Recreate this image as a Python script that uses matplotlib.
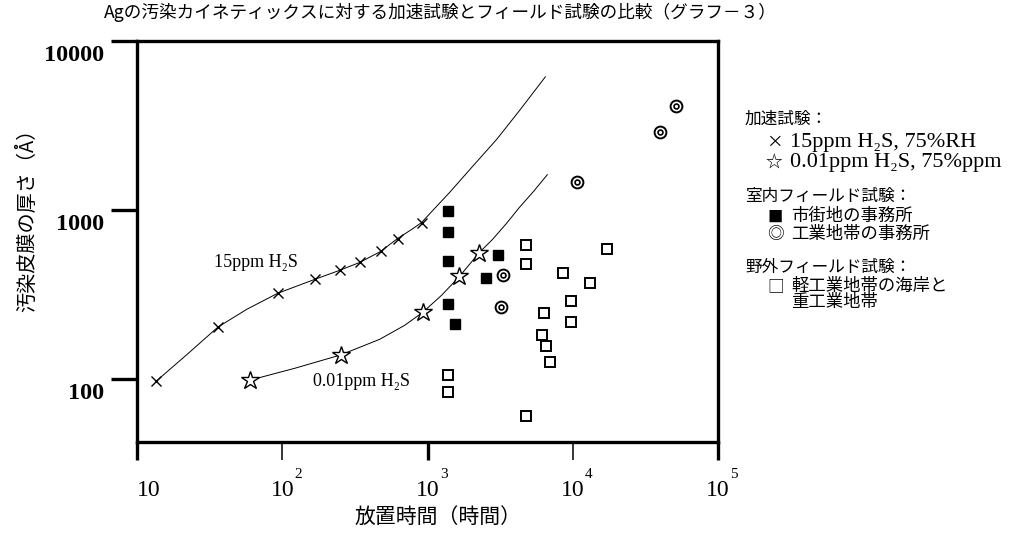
import numpy as np
import matplotlib.pyplot as plt
from matplotlib import transforms, ticker

plt.rcParams['font.family'] = ['Liberation Serif', 'Noto Sans CJK JP', 'DejaVu Sans']
jp = ['Noto Sans CJK JP', 'DejaVu Sans']

# accelerated test, 15ppm H2S (x marks)
h2s15_hours = [13.5, 36, 93, 167, 248, 341, 475, 622, 910]
h2s15_thick = [97, 203, 322, 389, 440, 490, 569, 679, 844]
# fitted curve through them
curve15_hours = [13.5, 22.1, 36, 57, 93, 167, 248, 341, 475, 622, 776, 910, 1135, 1416, 2037,
                 2979, 4285, 6476]
curve15_thick = [97, 140, 203, 259, 322, 389, 440, 490, 569, 679, 767, 844, 1035, 1268, 1807,
                 2606, 3864, 6138]

# accelerated test, 0.01ppm H2S (stars)
h2s001_hours = [59.8, 252, 925, 1660, 2275]
h2s001_thick = [98.6, 139, 248, 405, 561]
curve001_hours = [59.8, 122, 252, 468, 695, 925, 1248, 1660, 2275, 2800, 3491, 4285, 5357, 6683]
curve001_thick = [98.6, 116, 139, 172, 208, 248, 313, 405, 561, 670, 832, 1035, 1286, 1619]

# indoor field test: city office (filled squares)
city_hours = [1393, 1393, 1393, 1393, 1556, 3077, 2541]
city_thick = [994, 747, 497, 277, 211, 546, 394]

# indoor field test: industrial office (bullseye)
ind_hours = [3327, 3226, 10740, 39900, 51400]
ind_thick = [411, 266, 1473, 2903, 4139]

# outdoor field test (open squares)
out_hours = [1393, 1393, 4786, 4786, 4786, 17260, 8610, 13180, 9770, 6366, 9770, 6170, 6575, 7000]
out_thick = [106, 84, 618, 483, 60.5, 585, 422, 368, 288, 245, 217, 182, 157, 126]

W, H = 1028, 536
fig = plt.figure(figsize=(W / 100, H / 100), dpi=100)
ax = fig.add_axes([137 / W, 1 - 442 / H, (718 - 137) / W, (442 - 41) / H])

ax.plot(curve15_hours, curve15_thick, color='black', lw=0.7)
ax.plot(curve001_hours, curve001_thick, color='black', lw=0.7)
ax.plot(h2s15_hours, h2s15_thick, 'x', color='black', ms=7, mew=1.0)
ax.plot(h2s001_hours, h2s001_thick, '*', mfc='white', mec='black', ms=13.5, mew=1.0)
ax.plot(city_hours, city_thick, 's', color='black', ms=7.5)
ax.plot(ind_hours, ind_thick, 'o', mfc='white', mec='black', ms=8.5, mew=1.4)
ax.plot(ind_hours, ind_thick, 'o', mfc='white', mec='black', ms=3.5, mew=1.2)
ax.plot(out_hours, out_thick, 's', mfc='white', mec='black', ms=6.5, mew=1.4)

ax.set_xscale('log')
ax.set_yscale('log')
ax.set_xlim(10, 1e5)
ax.set_ylim(42.5, 10000)

for s in ax.spines.values():
    s.set_linewidth(2.4)

ax.set_yticks([100, 1000, 10000])
ax.yaxis.set_minor_locator(ticker.NullLocator())
ax.set_yticklabels(['100', '1000', '10000'], fontsize=17.5, fontweight='bold')
ax.tick_params(axis='y', direction='out', length=19, width=2.4, pad=5)
for lab in ax.get_yticklabels():
    lab.set_transform(lab.get_transform() + transforms.ScaledTranslation(0, -0.12, fig.dpi_scale_trans))

ax.set_xticks([10, 1e3, 1e5])
ax.set_xticks([1e2, 1e4], minor=True)
ax.set_xticklabels([])
ax.set_xticklabels([], minor=True)
ax.tick_params(axis='x', which='major', direction='out', length=13, width=2.4)
ax.tick_params(axis='x', which='minor', direction='out', length=13, width=1.1)

# x tick labels 10, 10^2 ... drawn as base + superscript
bt = transforms.blended_transform_factory(ax.transData, fig.transFigure)
for e in range(1, 6):
    xv = 10.0 ** e
    if e == 1:
        ax.text(xv, 1 - 490 / H, '10', transform=bt, ha='left', va='center', fontsize=17,
                clip_on=False)
    else:
        ax.text(xv, 1 - 490 / H, '10', transform=bt, ha='center', va='center', fontsize=17,
                clip_on=False)
        ax.text(xv * 10 ** 0.085, 1 - 474 / H, str(e), transform=bt, ha='left', va='center',
                fontsize=11, clip_on=False)

# curve labels
ax.text(10 ** (1 + (214 - 137) / 145.5), 10 ** (4 - (263 - 41) / 169.5), '15ppm H₂S',
        fontsize=13, va='center', ha='left')
ax.text(10 ** (1 + (313 - 137) / 145.5), 10 ** (4 - (382 - 41) / 169.5), '0.01ppm H₂S',
        fontsize=13, va='center', ha='left')

fig.text(440 / W, 1 - 12 / H, 'Agの汚染カイネティックスに対する加速試験とフィールド試験の比較（グラフ－３）',
         ha='center', va='center', fontsize=12.7, family=jp)
fig.text(438 / W, 1 - 517 / H, '放置時間（時間）', ha='center', va='center', fontsize=15, family=jp)
fig.text(28 / W, 1 - 215 / H, '汚染皮膜の厚さ（Å）', ha='center', va='center', fontsize=14.5,
         rotation=90, family=jp)

# legend text block
heads = [(745, 120, '加速試験：'), (745, 197, '室内フィールド試験：'), (745, 268, '野外フィールド試験：')]
for x, y, t in heads:
    fig.text(x / W, 1 - y / H, t, ha='left', va='center', fontsize=12)

syms = [(766, 142, '×', 12), (765, 162, '☆', 12), (767, 217, '■', 11), (767, 235, '◎', 12),
        (767, 287, '□', 12)]
for x, y, t, fs in syms:
    fig.text(x / W, 1 - y / H, t, ha='left', va='center', fontsize=fs, family=jp)

items = [(790, 142, '15ppm H₂S, 75%RH', 16), (790, 162, '0.01ppm H₂S, 75%ppm', 16),
         (791, 217, '市街地の事務所', 12.5), (791, 235, '工業地帯の事務所', 12.5),
         (791, 287, '軽工業地帯の海岸と', 12.5), (791, 303, '重工業地帯', 12.5)]
for x, y, t, fs in items:
    fig.text(x / W, 1 - y / H, t, ha='left', va='center', fontsize=fs)

fig.savefig('out.png', dpi=100)
